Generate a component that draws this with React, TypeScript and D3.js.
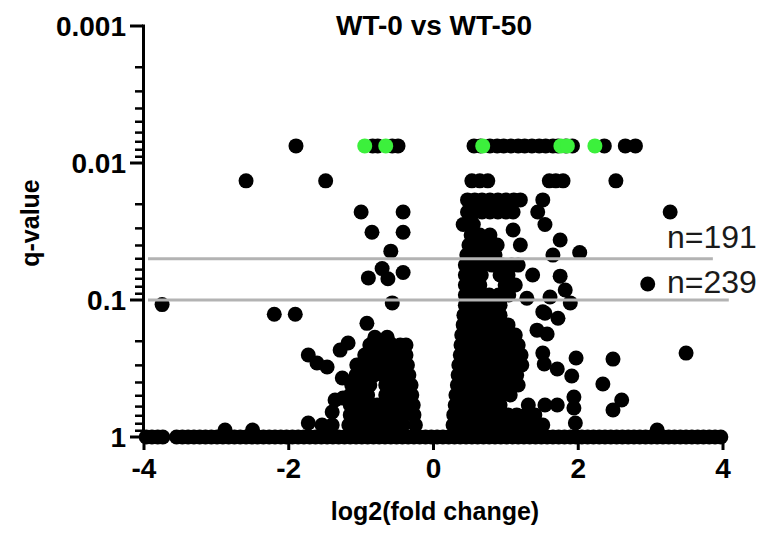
import { useEffect, useRef } from 'react';
import * as d3 from 'd3';

const W = 765;
const H = 536;

const xTicks = [-4, -2, 0, 2, 4];
const yMajorTicks = [0.001, 0.01, 0.1, 1];
const yTickLabels = ['0.001', '0.01', '0.1', '1'];

// significance cut-offs and the gene counts above them
const cutoffQ = [0.05, 0.1];
const cutoffEndX = [3.86, 4.08];
const cutoffLabels = ['n=191', 'n=239'];

// genes sitting on the q floor (0.0075)
const floorQ = 0.0075;
const floorX = [-1.9, -0.84, -0.77, -0.57, -0.49, 0.56, 0.65, 0.78, 0.88, 0.97, 1.07, 1.17, 1.26,
  1.36, 1.46, 1.55, 1.65, 1.72, 1.83, 1.92, 2.36, 2.65, 2.79];

// second q level (0.0135)
const secondQ = 0.0135;
const secondX = [-2.59, -1.49, 0.53, 0.64, 0.75, 1.6, 1.69, 1.79, 2.52];

// genes with q = 1
const oneX = [-3.97, -3.89, -3.81, -3.74, -3.55, -3.47, -3.39, -3.31, -3.23, -3.15, -3.07, -2.99,
  -2.91, -2.83, -2.75, -2.67, -2.59, -2.51, -2.43, -2.35, -2.27, -2.19, -2.11, -2.03, -1.95, -1.87,
  -1.79, -1.71, -1.63, -1.55, -1.47, -1.39, -1.31, -1.23, -1.15, -1.07, -0.99, -0.91, -0.83, -0.75,
  -0.67, -0.59, -0.51, -0.43, -0.35, -0.27, -0.19, -0.11, -0.03, 0.05, 0.13, 0.21, 0.29, 0.37,
  0.45, 0.53, 0.61, 0.69, 0.77, 0.85, 0.93, 1.01, 1.09, 1.17, 1.25, 1.33, 1.41, 1.49, 1.57, 1.65,
  1.73, 1.81, 1.89, 1.97, 2.05, 2.13, 2.21, 2.29, 2.37, 2.45, 2.53, 2.61, 2.69, 2.77, 2.85, 2.93,
  3.01, 3.09, 3.17, 3.25, 3.33, 3.41, 3.49, 3.57, 3.65, 3.73, 3.81, 3.89, 3.97];

// up-regulated block: [q, log2FC values]
const upRows: [number, number[]][] = [
  [0.0186, [0.47, 0.57, 0.67, 0.78, 0.89, 1.0, 1.11, 1.2]],
  [0.0228, [0.47, 0.57, 0.67, 0.78, 0.89, 1.0, 1.1]],
  [0.0281, [0.41, 0.55]],
  [0.0336, [0.52, 0.64, 0.78]],
  [0.0397, [0.49, 0.61, 0.75, 0.88]],
  [0.047, [0.46, 0.57, 0.71, 0.85]],
  [0.0556, [0.44, 0.55, 0.67, 0.81, 0.95, 1.08, 1.17]],
  [0.0657, [0.44, 0.55, 0.66, 0.92, 1.03]],
  [0.0778, [0.44, 0.55, 0.64, 0.99, 1.13]],
  [0.092, [0.44, 0.55, 0.65, 0.77, 0.9, 1.04]],
  [0.109, [0.44, 0.56, 0.68, 0.81, 0.92]],
  [0.129, [0.42, 0.55, 0.67, 0.79, 0.92]],
  [0.152, [0.41, 0.53, 0.66, 0.78, 0.9, 1.03]],
  [0.18, [0.39, 0.52, 0.64, 0.77, 0.89, 1.02, 1.13]],
  [0.213, [0.38, 0.5, 0.63, 0.75, 0.88, 1.0, 1.11, 1.17]],
  [0.252, [0.37, 0.49, 0.61, 0.74, 0.86, 0.99, 1.11, 1.21]],
  [0.298, [0.35, 0.48, 0.6, 0.73, 0.85, 0.97, 1.1, 1.22]],
  [0.353, [0.34, 0.46, 0.59, 0.71, 0.84, 0.96, 1.08, 1.15]],
  [0.417, [0.33, 0.45, 0.57, 0.7, 0.82, 0.95, 1.07, 1.17]],
  [0.494, [0.31, 0.44, 0.56, 0.68, 0.81, 0.93, 1.06]],
  [0.584, [0.3, 0.42, 0.55, 0.67, 0.79, 0.92, 1.31, 1.54, 1.71]],
  [0.69, [0.28, 0.41, 0.53, 0.66, 0.78, 0.91, 1.03, 1.15, 1.28, 1.4]],
  [0.817, [0.27, 0.39, 0.52, 0.64, 0.77, 0.89, 1.02, 1.14, 1.26, 1.39, 1.51]],
];

// down-regulated block: [q, log2FC values]
const downRows: [number, number[]][] = [
  [0.187, [-0.81, -0.64]],
  [0.213, [-0.88, -0.74, -0.57, -0.46, -0.38]],
  [0.252, [-0.95, -0.82, -0.7, -0.57, -0.46, -0.38]],
  [0.298, [-1.02, -0.89, -0.77, -0.64, -0.52, -0.4, -0.36]],
  [0.353, [-1.07, -0.95, -0.82, -0.7, -0.57, -0.45, -0.34]],
  [0.417, [-1.13, -1.0, -0.88, -0.66, -0.53, -0.42, -0.31]],
  [0.494, [-1.15, -1.03, -0.91, -0.66, -0.53, -0.41, -0.3]],
  [0.584, [-1.15, -1.03, -0.91, -0.78, -0.66, -0.53, -0.41, -0.28]],
  [0.69, [-1.15, -1.03, -0.91, -0.78, -0.66, -0.53, -0.41, -0.27]],
  [0.817, [-1.17, -1.04, -0.92, -0.79, -0.67, -0.55, -0.42, -0.25]],
];

// scattered genes [log2FC, q]
const scattered: [number, number][] = [
  [-1.0, 0.0228], [-0.42, 0.0228], [-0.85, 0.032], [-0.42, 0.032], [-0.59, 0.044],
  [-0.71, 0.059], [-0.9, 0.069], [-0.63, 0.07], [-0.42, 0.063], [-0.57, 0.105],
  [-2.2, 0.127], [-1.91, 0.127], [-3.75, 0.108], [-0.92, 0.148], [-1.73, 0.252],
  [-1.61, 0.288], [-1.29, 0.232], [-1.18, 0.206], [-1.47, 0.308], [-1.26, 0.371],
  [-1.06, 0.298], [-1.36, 0.537], [-1.25, 0.52], [-1.4, 0.657], [-1.73, 0.79],
  [-1.54, 0.817], [-1.4, 0.817], [-2.88, 0.89], [-2.5, 0.89],
  [1.51, 0.0186], [1.44, 0.0228], [1.54, 0.0281], [1.1, 0.0308], [1.2, 0.0397],
  [1.29, 0.097], [1.61, 0.095], [1.89, 0.105], [1.54, 0.125], [1.72, 0.136],
  [1.43, 0.166], [1.57, 0.177], [1.51, 0.244], [1.53, 0.293], [1.71, 0.319],
  [1.97, 0.265], [1.91, 0.359], [2.48, 0.27], [2.34, 0.41], [2.6, 0.537],
  [2.48, 0.635], [1.94, 0.51], [1.94, 0.614], [1.96, 0.79], [3.49, 0.244],
  [3.27, 0.0228], [2.96, 0.0765], [1.75, 0.0365], [2.02, 0.045], [1.65, 0.047],
  [1.37, 0.0657], [1.75, 0.067], [1.82, 0.0845], [1.51, 0.122], [3.09, 0.889],
];

// highlighted genes
const greenOnTop: [number, number][] = [
  [-0.95, 0.0075], [-0.66, 0.0075], [0.68, 0.0075], [1.76, 0.0075], [1.85, 0.0075], [2.23, 0.0075],
];
const greenHidden: [number, number][] = [[0.5, 0.0225]];

const FONT = '"Liberation Sans", Arial, Helvetica, sans-serif';
const GREEN = '#3cf03c';

export default function App() {
  const svgRef = useRef<SVGSVGElement | null>(null);

  useEffect(() => {
    if (!svgRef.current) return;
    const svg = d3.select(svgRef.current);
    svg.selectAll('*').remove();

    const x = d3.scaleLinear().domain([-4, 4]).range([144, 723]);
    const y = d3.scaleLog().domain([0.001, 1]).range([26, 437]);
    const r = 7.5;

    const black: [number, number][] = [
      ...floorX.map((v) => [v, floorQ] as [number, number]),
      ...secondX.map((v) => [v, secondQ] as [number, number]),
      ...oneX.map((v) => [v, 1] as [number, number]),
      ...upRows.flatMap(([q, xs]) => xs.map((v) => [v, q] as [number, number])),
      ...downRows.flatMap(([q, xs]) => xs.map((v) => [v, q] as [number, number])),
      ...scattered,
    ];

    const dots = (data: [number, number][], fill: string) => {
      svg.append('g')
        .selectAll('circle')
        .data(data)
        .join('circle')
        .attr('cx', (d) => x(d[0]))
        .attr('cy', (d) => y(d[1]))
        .attr('r', r)
        .attr('fill', fill);
    };

    dots(greenHidden, GREEN);
    dots(black, '#000');
    dots(greenOnTop, GREEN);

    // cut-off lines, drawn over the dots
    cutoffQ.forEach((q, i) => {
      svg.append('line')
        .attr('x1', 148).attr('x2', x(cutoffEndX[i]))
        .attr('y1', y(q)).attr('y2', y(q))
        .attr('stroke', '#b3b3b3')
        .attr('stroke-width', 3);
    });

    // y axis
    const yAxis = svg.append('g');
    yAxis.append('line')
      .attr('x1', 143.5).attr('x2', 143.5)
      .attr('y1', y(0.001) - 1.5).attr('y2', y(1) + 1.5)
      .attr('stroke', '#000').attr('stroke-width', 3);
    y.ticks().forEach((t) => {
      const major = yMajorTicks.some((m) => Math.abs(m - t) < 1e-9);
      yAxis.append('line')
        .attr('x1', major ? 130 : 135).attr('x2', 143)
        .attr('y1', y(t)).attr('y2', y(t))
        .attr('stroke', '#000').attr('stroke-width', major ? 3 : 2.5);
    });
    yMajorTicks.forEach((t, i) => {
      yAxis.append('text')
        .attr('x', 126).attr('y', y(t) + 10)
        .attr('text-anchor', 'end')
        .attr('font-family', FONT).attr('font-weight', 'bold').attr('font-size', 28)
        .text(yTickLabels[i]);
    });

    // x axis
    const xAxis = svg.append('g');
    xAxis.append('line')
      .attr('x1', x(-4)).attr('x2', x(4))
      .attr('y1', 437).attr('y2', 437)
      .attr('stroke', '#000').attr('stroke-width', 3);
    xTicks.forEach((t) => {
      xAxis.append('line')
        .attr('x1', x(t)).attr('x2', x(t))
        .attr('y1', 437).attr('y2', 450)
        .attr('stroke', '#000').attr('stroke-width', 3);
      xAxis.append('text')
        .attr('x', x(t)).attr('y', 478)
        .attr('text-anchor', 'middle')
        .attr('font-family', FONT).attr('font-weight', 'bold').attr('font-size', 28)
        .text(t);
    });

    // titles
    svg.append('text')
      .attr('x', 434).attr('y', 35)
      .attr('text-anchor', 'middle')
      .attr('font-family', FONT).attr('font-weight', 'bold').attr('font-size', 28)
      .text('WT-0 vs WT-50');
    svg.append('text')
      .attr('x', 435).attr('y', 520)
      .attr('text-anchor', 'middle')
      .attr('font-family', FONT).attr('font-weight', 'bold').attr('font-size', 25)
      .text('log2(fold change)');
    svg.append('text')
      .attr('transform', 'translate(39,223) rotate(-90)')
      .attr('text-anchor', 'middle')
      .attr('font-family', FONT).attr('font-weight', 'bold').attr('font-size', 25)
      .text('q-value');

    // counts
    cutoffLabels.forEach((label, i) => {
      svg.append('text')
        .attr('x', 667).attr('y', [248, 293][i])
        .attr('font-family', FONT).attr('font-size', 32)
        .attr('fill', '#1a1a1a')
        .text(label);
    });
  }, []);

  return (
    <svg
      ref={svgRef}
      width={W}
      height={H}
      style={{ position: 'absolute', left: 0, top: 0, background: '#fff' }}
    />
  );
}
